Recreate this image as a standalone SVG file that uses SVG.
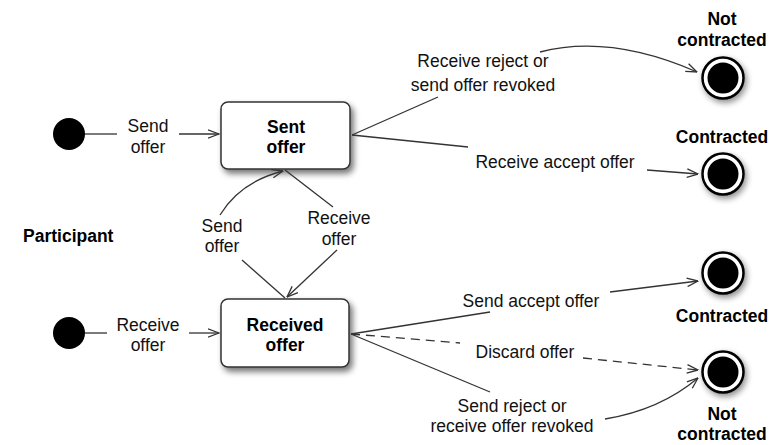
<svg xmlns="http://www.w3.org/2000/svg" width="769" height="445" viewBox="0 0 769 445">
  <defs>
    <filter id="shadow" x="-20%" y="-20%" width="150%" height="160%">
      <feGaussianBlur in="SourceAlpha" stdDeviation="3"/>
      <feOffset dx="3" dy="4" result="b"/>
      <feComponentTransfer><feFuncA type="linear" slope="0.55"/></feComponentTransfer>
      <feMerge><feMergeNode/><feMergeNode in="SourceGraphic"/></feMerge>
    </filter>
    <filter id="glow" x="-50%" y="-50%" width="200%" height="200%">
      <feGaussianBlur in="SourceAlpha" stdDeviation="3"/>
      <feOffset dx="2" dy="3" result="b"/>
      <feComponentTransfer><feFuncA type="linear" slope="0.45"/></feComponentTransfer>
      <feMerge><feMergeNode/><feMergeNode in="SourceGraphic"/></feMerge>
    </filter>
    <marker id="open" viewBox="0 0 12 10" refX="11.5" refY="5" markerWidth="12" markerHeight="10" markerUnits="userSpaceOnUse" orient="auto">
      <path d="M0.5,0.8 L11.5,5 L0.5,9.2" fill="none" stroke="#333" stroke-width="1.3"/>
    </marker>
  </defs>
  <style>
    .lbl { font-family: "Liberation Sans", Arial, sans-serif; font-size: 17.5px; fill: #111; text-anchor: middle; }
    .bold { font-family: "Liberation Sans", Arial, sans-serif; font-size: 17.5px; font-weight: bold; fill: #000; text-anchor: middle; }
    .edge { fill: none; stroke: #333; stroke-width: 1.3; }
    .arrow { marker-end: url(#open); }
    .dash { stroke-dasharray: 9 6; }
    .state { fill: #fff; stroke: #333; stroke-width: 1.5; }
  </style>
  <rect width="769" height="445" fill="#fff"/>

  <text x="23" y="242" class="bold" style="text-anchor:start">Participant</text>

  <!-- initial states -->
  <g id="init-send"><circle cx="69" cy="134" r="16" fill="#000"/></g>
  <g id="init-receive"><circle cx="69" cy="333" r="16" fill="#000"/></g>

  <!-- states -->
  <g id="sent-offer">
    <rect x="221" y="102" width="129" height="67" rx="7" class="state" filter="url(#shadow)"/>
    <text x="286" y="133" class="bold">Sent</text>
    <text x="286" y="153" class="bold">offer</text>
  </g>
  <g id="received-offer">
    <rect x="221" y="299" width="128" height="68" rx="7" class="state" filter="url(#shadow)"/>
    <text x="285" y="331" class="bold">Received</text>
    <text x="285" y="351" class="bold">offer</text>
  </g>

  <!-- final states -->
  <g id="final-not-contracted-1">
    <g filter="url(#glow)">
      <circle cx="723" cy="78" r="20.5" fill="#fff" stroke="#000" stroke-width="2.5"/>
      <circle cx="723" cy="78" r="15.5" fill="#000"/>
    </g>
    <text x="722" y="25" class="bold">Not</text>
    <text x="722" y="46" class="bold">contracted</text>
  </g>
  <g id="final-contracted-1">
    <g filter="url(#glow)">
      <circle cx="723" cy="174" r="20.5" fill="#fff" stroke="#000" stroke-width="2.5"/>
      <circle cx="723" cy="174" r="15.5" fill="#000"/>
    </g>
    <text x="722" y="143" class="bold">Contracted</text>
  </g>
  <g id="final-contracted-2">
    <g filter="url(#glow)">
      <circle cx="723" cy="273" r="20.5" fill="#fff" stroke="#000" stroke-width="2.5"/>
      <circle cx="723" cy="273" r="15.5" fill="#000"/>
    </g>
    <text x="722" y="322" class="bold">Contracted</text>
  </g>
  <g id="final-not-contracted-2">
    <g filter="url(#glow)">
      <circle cx="723" cy="372" r="20.5" fill="#fff" stroke="#000" stroke-width="2.5"/>
      <circle cx="723" cy="372" r="15.5" fill="#000"/>
    </g>
    <text x="722" y="420" class="bold">Not</text>
    <text x="722" y="440" class="bold">contracted</text>
  </g>

  <!-- transitions -->
  <g id="connectors">
    <!-- initial -> sent offer -->
    <line x1="85" y1="134" x2="117" y2="134" class="edge"/>
    <line x1="179" y1="134" x2="219" y2="134" class="edge arrow"/>
    <text x="148" y="132" class="lbl">Send</text>
    <text x="148" y="153" class="lbl">offer</text>

    <!-- initial -> received offer -->
    <line x1="85" y1="333" x2="107" y2="333" class="edge"/>
    <line x1="189" y1="333" x2="219" y2="333" class="edge arrow"/>
    <text x="148" y="331" class="lbl">Receive</text>
    <text x="148" y="351" class="lbl">offer</text>

    <!-- received -> sent -->
    <line x1="285" y1="298" x2="242" y2="260" class="edge"/>
    <path d="M220,215 Q240,182 283,171" class="edge arrow"/>
    <text x="222" y="232" class="lbl">Send</text>
    <text x="222" y="252" class="lbl">offer</text>

    <!-- sent -> received -->
    <line x1="285" y1="170" x2="333" y2="207" class="edge"/>
    <line x1="337" y1="250" x2="287" y2="297" class="edge arrow"/>
    <text x="339" y="224" class="lbl">Receive</text>
    <text x="339" y="245" class="lbl">offer</text>

    <!-- sent -> not contracted -->
    <line x1="352" y1="135" x2="438" y2="97" class="edge"/>
    <path d="M540,52 Q610,34 697,72" class="edge arrow"/>
    <text x="483" y="67" class="lbl">Receive reject or</text>
    <text x="483" y="91" class="lbl">send offer revoked</text>

    <!-- sent -> contracted -->
    <line x1="352" y1="135" x2="468" y2="147" class="edge"/>
    <line x1="647" y1="170" x2="698" y2="174" class="edge arrow"/>
    <text x="555" y="168" class="lbl">Receive accept offer</text>

    <!-- received -> contracted -->
    <line x1="351" y1="334" x2="490" y2="312" class="edge"/>
    <line x1="610" y1="292" x2="698" y2="281" class="edge arrow"/>
    <text x="531" y="307" class="lbl">Send accept offer</text>

    <!-- received -> not contracted (discard) -->
    <line x1="351" y1="334" x2="460" y2="343" class="edge dash"/>
    <line x1="583" y1="358" x2="698" y2="370" class="edge dash arrow"/>
    <text x="525" y="358" class="lbl">Discard offer</text>

    <!-- received -> not contracted (reject) -->
    <line x1="351" y1="334" x2="490" y2="392" class="edge"/>
    <path d="M605,419 Q660,410 698,378" class="edge arrow"/>
    <text x="512" y="412" class="lbl">Send reject or</text>
    <text x="512" y="432" class="lbl">receive offer revoked</text>
  </g>
</svg>
